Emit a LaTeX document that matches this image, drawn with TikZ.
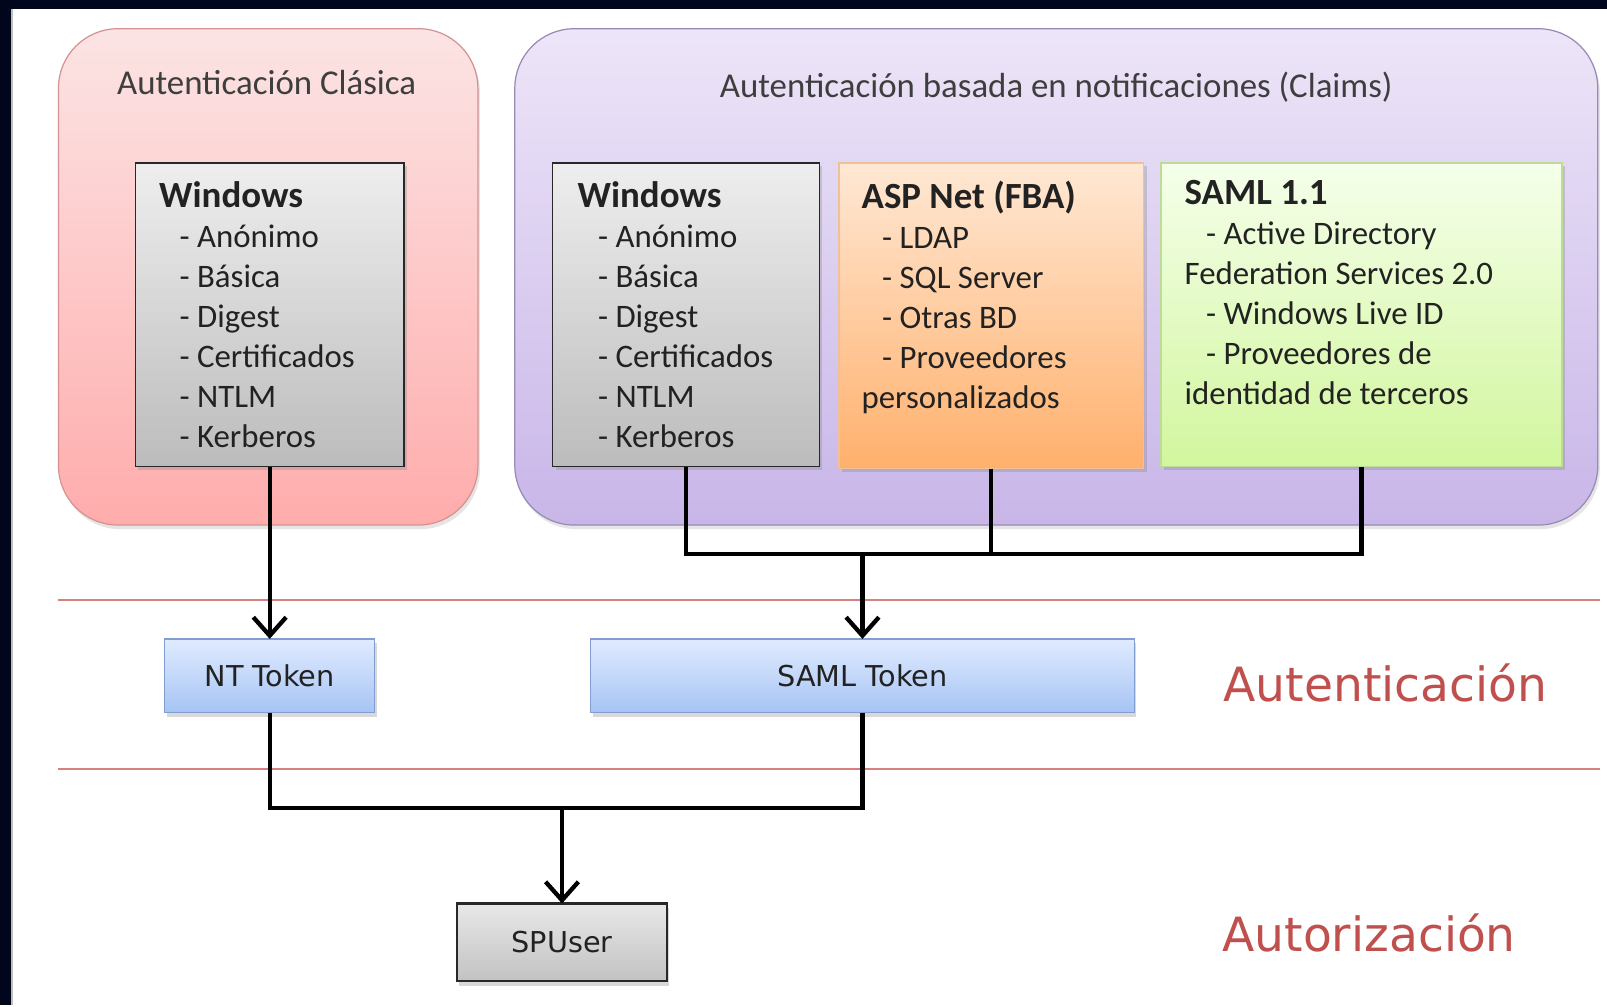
\documentclass[tikz,border=0pt]{standalone}
\usepackage{fontspec}
\setmainfont{Carlito}
\newfontfamily\tokfont{DejaVu Sans}
\usetikzlibrary{arrows.meta,shadows,positioning}

\definecolor{frameblue}{RGB}{2,6,28}
\definecolor{pinktop}{RGB}{252,228,228}
\definecolor{pinkbot}{RGB}{255,172,172}
\definecolor{pinkedge}{RGB}{214,146,146}
\definecolor{lilactop}{RGB}{237,229,248}
\definecolor{lilacbot}{RGB}{200,182,232}
\definecolor{lilacedge}{RGB}{152,138,182}
\definecolor{wintop}{RGB}{238,238,238}
\definecolor{winbot}{RGB}{188,188,188}
\definecolor{winedge}{RGB}{40,40,40}
\definecolor{asptop}{RGB}{255,232,212}
\definecolor{aspbot}{RGB}{255,176,108}
\definecolor{aspedge}{RGB}{240,192,150}
\definecolor{samltop}{RGB}{245,255,234}
\definecolor{samlbot}{RGB}{210,246,158}
\definecolor{samledge}{RGB}{190,220,150}
\definecolor{toktop}{RGB}{224,235,255}
\definecolor{tokbot}{RGB}{166,196,244}
\definecolor{tokedge}{RGB}{128,158,208}
\definecolor{usertop}{RGB}{232,232,232}
\definecolor{userbot}{RGB}{194,194,194}
\definecolor{boxink}{RGB}{34,34,34}
\definecolor{titleink}{RGB}{62,62,62}
\definecolor{layerred}{RGB}{192,80,77}
\definecolor{sepred}{RGB}{214,128,128}

\newcommand{\titlefont}{\bfseries\fontsize{36}{39}\selectfont}

\begin{document}
\begin{tikzpicture}[x=1pt,y=-1pt,
    panel/.style={line width=1.2pt, rounded corners=58pt, drop shadow={shadow xshift=2pt,shadow yshift=-4pt,opacity=0.2}},
    paneltitle/.style={text=titleink, font=\fontsize{34}{40}\selectfont, inner sep=0pt},
    authbox/.style={rectangle, anchor=north west, inner sep=0pt, outer sep=0pt, line width=1.2pt, drop shadow={shadow xshift=3pt,shadow yshift=-3pt,opacity=0.3}},
    boxtext/.style={anchor=north west, align=left, inner sep=0pt, text=boxink, font=\fontsize{32}{39}\selectfont},
    token/.style={rectangle, inner sep=0pt, outer sep=0pt, line width=1.2pt, text=boxink, font=\tokfont\fontsize{28}{34}\selectfont, drop shadow={shadow xshift=2pt,shadow yshift=-4pt,opacity=0.3}},
    layer/.style={text=layerred, font=\tokfont\fontsize{46}{55}\selectfont, inner sep=0pt},
    sep/.style={draw=sepred, line width=1.5pt},
    link/.style={line width=4.2pt},
    arrowlink/.style={link, -{Straight Barb[length=18pt,width=32pt]}}]

    \fill[white] (0,0) rectangle (1567,980);
    \fill[frameblue] (0,0) rectangle (1567,9);
    \fill[frameblue] (0,0) rectangle (11,980);
    \draw[black!25, line width=2pt] (12,9) -- (12,980);

    \draw[panel, draw=pinkedge, top color=pinktop, bottom color=pinkbot] (57,28) rectangle (466,512);
    \draw[panel, draw=lilacedge, top color=lilactop, bottom color=lilacbot] (502,28) rectangle (1558,512);
    \node[paneltitle] (classictitle) at (260,80) {Autenticación Clásica};
    \node[paneltitle] (claimstitle) at (1030,85) {Autenticación basada en notificaciones (Claims)};

    \node[authbox, draw=winedge, top color=wintop, bottom color=winbot, minimum width=262pt, minimum height=296pt] (winclassic) at (132,159) {};
    \node[authbox, draw=winedge, top color=wintop, bottom color=winbot, minimum width=260pt, minimum height=296pt] (winclaims) at (539,159) {};
    \node[authbox, draw=aspedge, top color=asptop, bottom color=aspbot, minimum width=297pt, minimum height=298pt] (aspnet) at (818,159) {};
    \node[authbox, draw=samledge, top color=samltop, bottom color=samlbot, minimum width=391pt, minimum height=296pt] (samlcfg) at (1132,159) {};

    \node[boxtext] (winclassictxt) at (155,177) {{\titlefont Windows}\\
      \hspace*{20pt}- Anónimo\\ \hspace*{20pt}- Básica\\ \hspace*{20pt}- Digest\\
      \hspace*{20pt}- Certificados\\ \hspace*{20pt}- NTLM\\ \hspace*{20pt}- Kerberos};
    \node[boxtext] (winclaimstxt) at (563,177) {{\titlefont Windows}\\
      \hspace*{20pt}- Anónimo\\ \hspace*{20pt}- Básica\\ \hspace*{20pt}- Digest\\
      \hspace*{20pt}- Certificados\\ \hspace*{20pt}- NTLM\\ \hspace*{20pt}- Kerberos};
    \node[boxtext] (aspnettxt) at (840,176) {{\titlefont ASP Net (FBA)}\\
      \hspace*{20pt}- LDAP\\ \hspace*{20pt}- SQL Server\\ \hspace*{20pt}- Otras BD\\
      \hspace*{20pt}- Proveedores\\ personalizados};
    \node[boxtext] (samlcfgtxt) at (1155,176) {{\titlefont SAML 1.1}\\
      \hspace*{21pt}- Active Directory\\ Federation Services 2.0\\
      \hspace*{21pt}- Windows Live ID\\ \hspace*{21pt}- Proveedores de\\ identidad de terceros};

    \draw[sep] (57,585) -- (1560,585);
    \draw[sep] (57,750) -- (1560,750);

    \node[token, draw=tokedge, top color=toktop, bottom color=tokbot, minimum width=205pt, minimum height=72pt] (nttoken) at (263,659) {NT Token};
    \node[token, draw=tokedge, top color=toktop, bottom color=tokbot, minimum width=530pt, minimum height=72pt] (samltoken) at (841,659) {SAML Token};
    \node[token, draw=winedge, line width=2pt, top color=usertop, bottom color=userbot, minimum width=204pt, minimum height=76pt] (spuser) at (548,919) {SPUser};

    \node[layer] (authnlabel) at (1351,666) {Autenticación};
    \node[layer] (authzlabel) at (1335,910) {Autorización};

    \coordinate (claimsjoin) at (841,540);
    \coordinate (userjoin) at (548,788);

    \draw[arrowlink] (winclassic.south) -- (nttoken.north);
    \draw[link] (winclaims.south) |- (claimsjoin) -| (samlcfg.south);
    \draw[link] (aspnet.south) -- (aspnet.south |- claimsjoin);
    \draw[arrowlink] (claimsjoin) -- (samltoken.north);
    \draw[link] (nttoken.south) |- (userjoin) -| (samltoken.south);
    \draw[arrowlink] (userjoin) -- (spuser.north);
  \end{tikzpicture}
\end{document}
